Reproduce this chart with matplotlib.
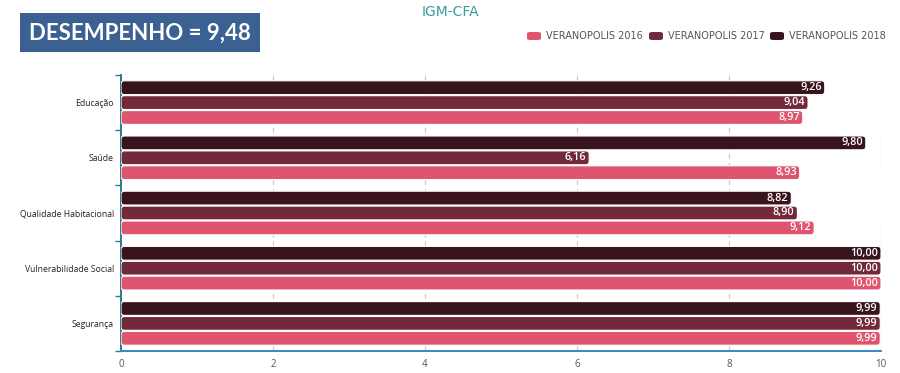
import matplotlib.pyplot as plt
from matplotlib.patches import FancyBboxPatch, Rectangle

# data
categories = ["Educação", "Saúde", "Qualidade Habitacional", "Vulnerabilidade Social", "Segurança"]
series = ["VERANOPOLIS 2016", "VERANOPOLIS 2017", "VERANOPOLIS 2018"]
v2016 = [8.97, 8.93, 9.12, 10.00, 9.99]
v2017 = [9.04, 6.16, 8.90, 10.00, 9.99]
v2018 = [9.26, 9.80, 8.82, 10.00, 9.99]
colors = ["#df546e", "#72293a", "#3a141d"]

fig = plt.figure(figsize=(9, 3.73), dpi=100)
ax = fig.add_axes([121/900, 22/373, 760/900, 276/373])

h = 0.27
offsets = [0.27, 0.0, -0.27]
ypos = list(range(len(categories)))
for vals, off, col in zip([v2016, v2017, v2018], offsets, colors):
    bars = ax.barh([y + off for y in ypos], vals, height=h, color=col)
    for b, v in zip(bars, vals):
        x0, y0 = b.get_x(), b.get_y()
        w, hh = b.get_width(), b.get_height()
        b.set_visible(False)
        p = FancyBboxPatch((x0, y0 + 0.01), w, hh - 0.02,
                           boxstyle="round,pad=0,rounding_size=0.045",
                           mutation_aspect=1.38, facecolor=col,
                           edgecolor="white", linewidth=0.8, zorder=3)
        ax.add_patch(p)
        ax.text(v - 0.04, y0 + hh / 2, f"{v:.2f}".replace(".", ","),
                ha="right", va="center", color="white", fontsize=7.8,
                fontweight="semibold", family="Open Sans", zorder=4)

ax.set_xlim(0, 10)
ax.set_ylim(len(categories) - 0.5, -0.5)
ax.set_xticks([0, 2, 4, 6, 8, 10])
ax.set_xticklabels(["0", "2", "4", "6", "8", "10"], family="Open Sans")
ax.set_yticks(ypos)
ax.set_yticklabels(categories, family="Open Sans")
ax.set_yticks([y - 0.5 for y in ypos] + [len(categories) - 0.5], minor=True)
ax.tick_params(axis="y", which="major", length=0, labelsize=6.2, labelcolor="#222222", pad=5)
ax.tick_params(axis="y", which="minor", length=4, color="#2a7f86", width=1)
ax.tick_params(axis="x", length=0, labelsize=7, labelcolor="#555555", pad=6)
ax.grid(axis="x", linestyle=(0, (4, 3)), color="#cccccc", linewidth=0.9, zorder=0)
ax.set_axisbelow(True)
for s in ["top", "right"]:
    ax.spines[s].set_visible(False)
ax.spines["left"].set_color("#2a7f86")
ax.spines["left"].set_linewidth(1.4)
ax.spines["bottom"].set_color("#3a86c8")
ax.spines["bottom"].set_linewidth(1.4)

# title
fig.text(450/900, 1 - 12/373, "IGM-CFA", ha="center", va="center",
         color="#3a9a9a", fontsize=10)

# performance box
fig.patches.append(Rectangle((20/900, 1 - 52/373), 240/900, 39/373,
                             transform=fig.transFigure, facecolor="#3a6192",
                             edgecolor="none"))
fig.text(140/900, 1 - 33/373, "DESEMPENHO = 9,48", ha="center", va="center",
         color="white", fontsize=16, fontweight="bold", family="Lato")

# legend
lx = [527, 649, 770]
for x, name, col in zip(lx, series, colors):
    fig.patches.append(FancyBboxPatch((x/900, 1 - 40/373), 14/900, 8/373,
                                      boxstyle="round,pad=0,rounding_size=0.004",
                                      transform=fig.transFigure,
                                      facecolor=col, edgecolor="none"))
    fig.text((x + 19)/900, 1 - 36/373, name, ha="left", va="center",
             color="#555555", fontsize=7)

fig.savefig("out.png", dpi=100)
